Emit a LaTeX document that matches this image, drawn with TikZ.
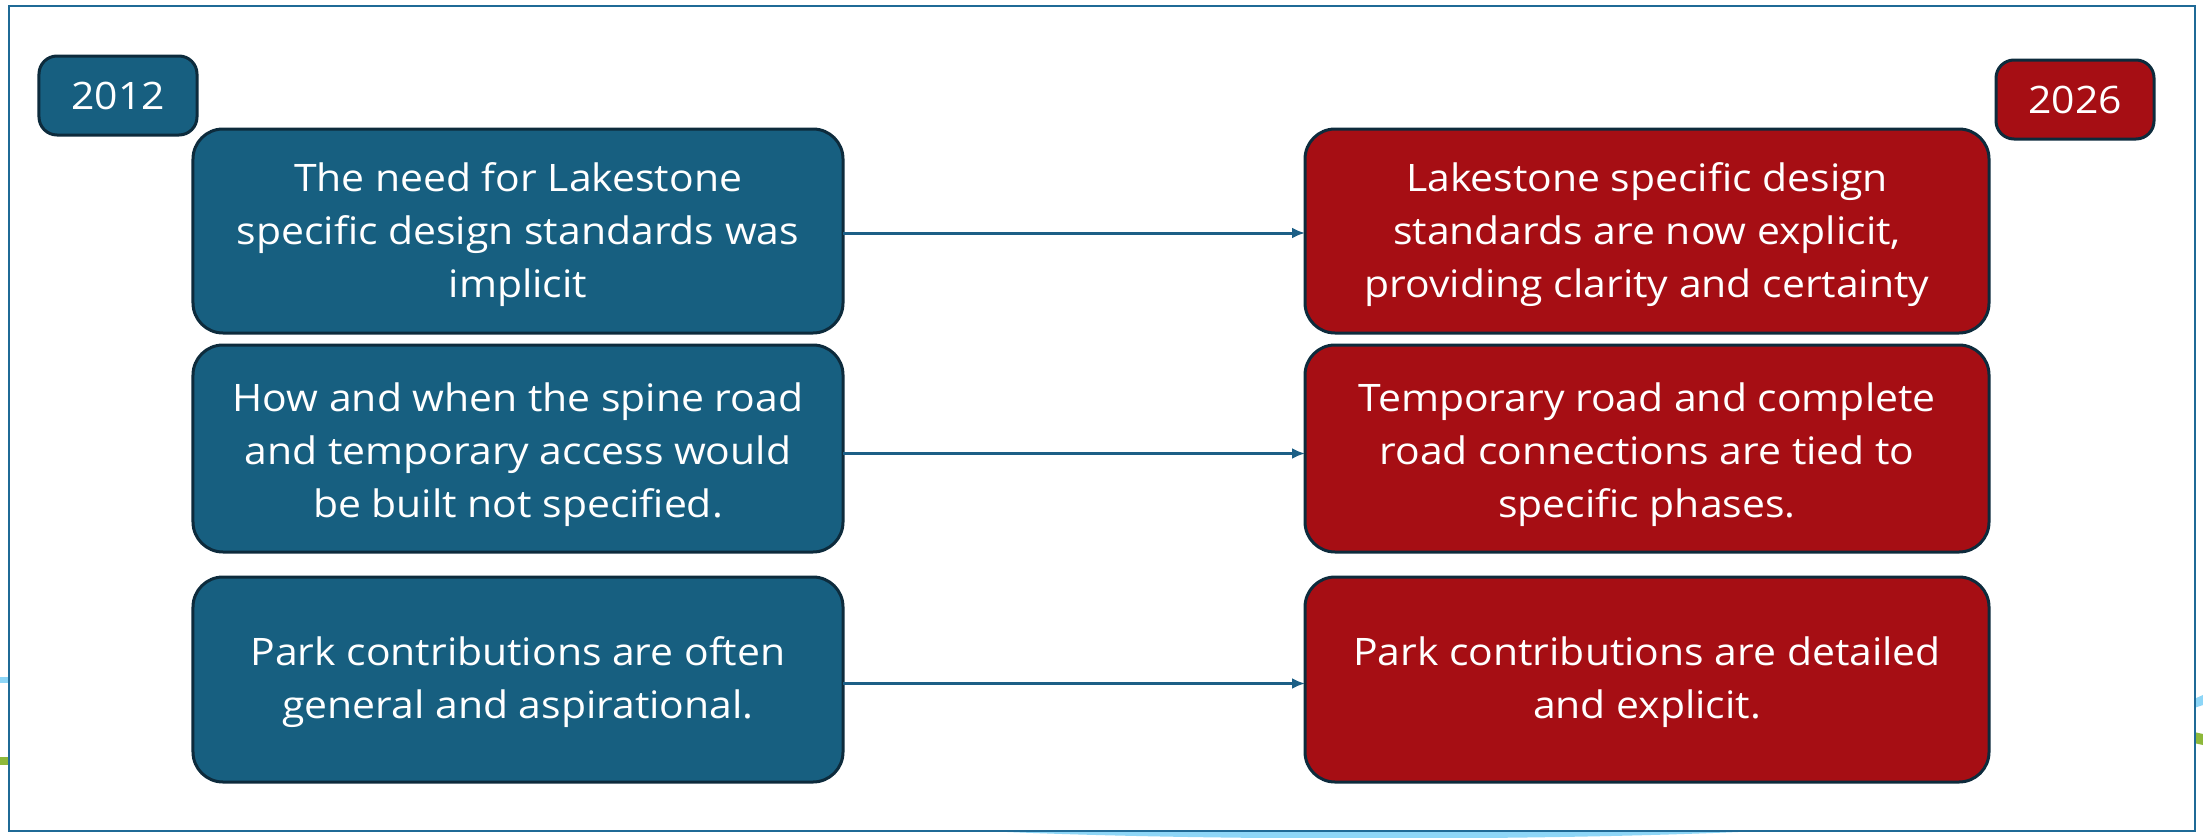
\documentclass[tikz,border=0pt]{standalone}
\usepackage{fontspec}
\setmainfont{Open Sans}[FakeStretch=1.08]
\usetikzlibrary{arrows.meta}
\definecolor{bluebox}{HTML}{175F80}
\definecolor{redbox}{HTML}{A60E14}
\definecolor{edgec}{HTML}{0D2B3C}
\definecolor{framec}{HTML}{1F6A96}
\definecolor{arrowc}{HTML}{1C5F86}
\definecolor{lightb}{HTML}{8DD6F7}
\definecolor{greenl}{HTML}{8DB83A}
\newcommand{\tstrut}[1]{\rule{0pt}{#1bp}}
\tikzset{
  bigbox/.style={draw=edgec, line width=3bp, rounded corners=30bp, align=center,
    text=white, font=\fontsize{38}{53.5}\selectfont, inner sep=0pt, outer sep=0pt},
  leftbox/.style={bigbox, fill=bluebox, minimum width=650bp},
  rightbox/.style={bigbox, fill=redbox, minimum width=684bp},
  yearbox/.style={draw=edgec, line width=3bp, rounded corners=18bp, align=center,
    text=white, font=\fontsize{38}{52}\selectfont, inner sep=0pt, outer sep=0pt,
    minimum width=158bp, minimum height=79bp},
  conn/.style={draw=arrowc, line width=3bp, -{Latex[length=13bp,width=11bp]}}
}
\begin{document}
\begin{tikzpicture}[x=1bp,y=-1bp]
\useasboundingbox (0,0) rectangle (2203,837);
\fill[white] (0,0) rectangle (2203,837);
% decorative strokes outside the frame
\fill[lightb] (0,677) rectangle (10,683);
\fill[greenl] (0,757) rectangle (10,765);
\fill[lightb] (2194,699) -- (2203,695) -- (2203,705) -- (2194,708) -- cycle;
\fill[greenl] (2194,732) -- (2203,734) -- (2203,745) -- (2194,743) -- cycle;
\fill[lightb] (985,831) .. controls (1200,841) and (1550,841) .. (1760,831) -- cycle;
% frame
\draw[framec, line width=2.5bp] (9,6) rectangle (2195,831);
% year labels
\node[yearbox, fill=bluebox] (y1) at (118,95.5) {2012};
\node[yearbox, fill=redbox] (y2) at (2075,99.5) {2026};
% left column
\node[leftbox, minimum height=204bp] (l1) at (518,231)
  {\tstrut{36}The need for Lakestone\\specific design standards was\\implicit};
\node[leftbox, minimum height=207bp] (l2) at (518,448.5)
  {\tstrut{41}How and when the spine road\\and temporary access would\\be built not specified.};
\node[leftbox, minimum height=205bp] (l3) at (518,679.5)
  {\tstrut{34}Park contributions are often\\general and aspirational.};
% right column
\node[rightbox, minimum height=204bp] (r1) at (1647,231)
  {\tstrut{36}Lakestone specific design\\standards are now explicit,\\providing clarity and certainty};
\node[rightbox, minimum height=207bp] (r2) at (1647,448.5)
  {\tstrut{41}Temporary road and complete\\road connections are tied to\\specific phases.};
\node[rightbox, minimum height=205bp] (r3) at (1647,679.5)
  {\tstrut{34}Park contributions are detailed\\and explicit.};
% connectors
\draw[conn] ([yshift=-2bp]l1.east) -- ([yshift=-2bp]r1.west);
\draw[conn] ([yshift=-5bp]l2.east) -- ([yshift=-5bp]r2.west);
\draw[conn] ([yshift=-4bp]l3.east) -- ([yshift=-4bp]r3.west);
\end{tikzpicture}
\end{document}
